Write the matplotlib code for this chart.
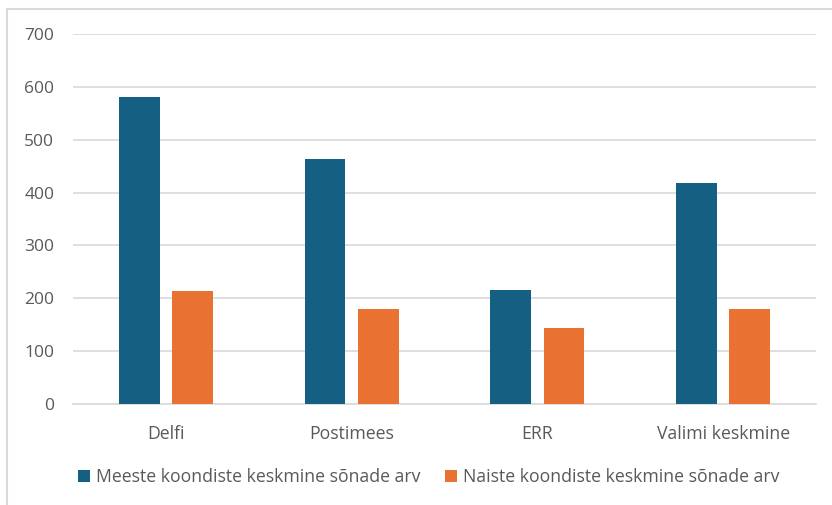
import matplotlib.pyplot as plt
import numpy as np
from matplotlib.patches import Rectangle

categories = ["Delfi", "Postimees", "ERR", "Valimi keskmine"]
meeste = [581, 463, 216, 418]
naiste = [214, 180, 144, 179]
series_names = ["Meeste koondiste keskmine sõnade arv", "Naiste koondiste keskmine sõnade arv"]
yticks = [0, 100, 200, 300, 400, 500, 600, 700]

blue = "#156082"
orange = "#E97132"
text_col = "#595959"
grid_col = "#D9D9D9"

plt.rcParams["font.family"] = ["Open Sans", "DejaVu Sans"]

W, H = 832, 505
fig = plt.figure(figsize=(W / 100, H / 100), dpi=100)

# chart frame (cut off at right and bottom in the reference)
fig.patches.append(Rectangle((7 / W, -0.1), 1.2, 1 - 9 / H + 0.1, transform=fig.transFigure,
                             fill=False, edgecolor="#D9D9D9", linewidth=1.5))

ax = fig.add_axes([73 / W, (H - 404) / H, (816 - 73) / W, (404 - 34) / H])

x = np.arange(len(categories))
width = 0.22
offset = 0.143
ax.bar(x - offset, meeste, width, color=blue, label=series_names[0], zorder=3)
ax.bar(x + offset, naiste, width, color=orange, label=series_names[1], zorder=3)

ax.set_xlim(-0.5, len(categories) - 0.5)
ax.set_ylim(0, 700)
ax.set_yticks(yticks)
ax.set_yticklabels([str(v) for v in yticks], fontsize=12.5, color=text_col)
ax.set_xticks(x)
ax.set_xticklabels(categories, fontsize=12.7, color=text_col)
ax.tick_params(axis="y", length=0, pad=13.5)
ax.tick_params(axis="x", length=0, pad=15)
ax.grid(axis="y", color=grid_col, linewidth=1.2, zorder=0)
for s in ["top", "right", "left"]:
    ax.spines[s].set_visible(False)
ax.spines["bottom"].set_color(grid_col)
ax.spines["bottom"].set_linewidth(1.2)

leg = fig.legend(loc="center left", bbox_to_anchor=(62 / W, 1 - 477 / H), ncol=2, frameon=False,
                 fontsize=12.7, handlelength=0.7, handleheight=0.7, handletextpad=0.35,
                 columnspacing=1.35, labelcolor=text_col)

fig.savefig("out.png", dpi=100)
